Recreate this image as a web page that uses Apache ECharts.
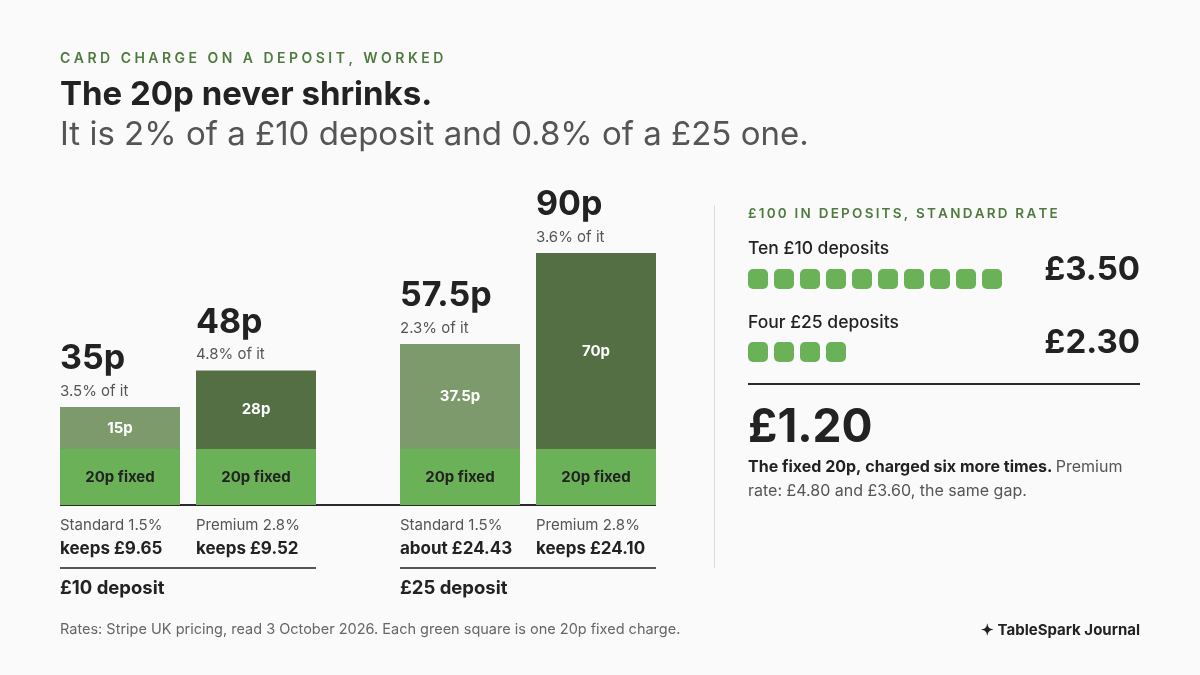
<!DOCTYPE html>
<html>
<head>
<meta charset="utf-8">
<script src="https://cdn.jsdelivr.net/npm/echarts@6/dist/echarts.min.js"></script>
<style>
  html, body { margin: 0; padding: 0; background: #fafafa; }
  #chart { width: 1200px; height: 675px; }
</style>
</head>
<body>
<div id="chart"></div>
<script>
// card charge per deposit, in pence
const planLabels = ['Standard 1.5%', 'Premium 2.8%', 'Standard 1.5%', 'Premium 2.8%'];
const keepsLabels = ['keeps £9.65', 'keeps £9.52', 'about £24.43', 'keeps £24.10'];
const planKind = ['standard', 'premium', 'standard', 'premium'];
const depositPence = [1000, 1000, 2500, 2500];
const fixedFee = [20, 20, 20, 20];
const rateFee = [15, 28, 37.5, 70];
const groupNames = ['£10 deposit', '£25 deposit'];

// £100 in deposits
const rowLabels = ['Ten £10 deposits', 'Four £25 deposits'];
const rowCounts = [10, 4];
const rowBar = [0, 2];        // which bar (standard rate) each row uses
const rowPremiumBar = [1, 3];

const FONT = 'Inter, "Noto Sans", sans-serif';
const GREEN = '#6bb157';
const STD = '#7c9a6b';
const PREM = '#556f45';
const INK = '#222222';
const GREY = '#555555';

const totals = fixedFee.map((f, i) => f + rateFee[i]);
const money = p => '£' + (p / 100).toFixed(2);
const spaced = (s, sep) => s.split('').join(sep);

const rowTotals = rowCounts.map((n, r) => n * totals[rowBar[r]]);
const rowPremium = rowCounts.map((n, r) => n * totals[rowPremiumBar[r]]);
const gap = rowTotals[0] - rowTotals[1];
const extraTimes = rowCounts[0] - rowCounts[1];

const numWords = ['zero', 'one', 'two', 'three', 'four', 'five', 'six', 'seven', 'eight', 'nine', 'ten'];

const chart = echarts.init(document.getElementById('chart'));

const grids = [
    { left: 52, width: 272, top: 225, height: 280 },
    { left: 392, width: 272, top: 225, height: 280 },
    { left: 745, width: 260, top: 279, height: 73 }
];

let xAxis = [];
let yAxis = [];
let series = [];

groupNames.forEach((name, g) => {
    const idx = [g * 2, g * 2 + 1];
    xAxis.push({
        type: 'category',
        gridIndex: g,
        data: idx.map(i => planLabels[i]),
        axisLine: { show: false },
        axisTick: { show: false },
        axisLabel: {
            margin: 9,
            formatter: (v, k) => '{a|' + planLabels[idx[k]] + '}\n{b|' + keepsLabels[idx[k]] + '}',
            rich: {
                a: { width: 120, align: 'left', fontFamily: FONT, fontSize: 15, color: GREY, lineHeight: 23 },
                b: { width: 120, align: 'left', fontFamily: FONT, fontSize: 17, fontWeight: 'bold', color: INK, lineHeight: 23 }
            }
        }
    });
    yAxis.push({ type: 'value', gridIndex: g, min: 0, max: 100, show: false });

    series.push({
        type: 'bar', name: 'fixed', xAxisIndex: g, yAxisIndex: g, stack: 'g' + g,
        barWidth: 120, silent: true,
        data: idx.map(i => fixedFee[i]),
        itemStyle: { color: GREEN },
        label: {
            show: true, position: 'inside', formatter: p => p.value + 'p fixed',
            fontFamily: FONT, fontSize: 15, fontWeight: 'bold', color: INK
        }
    });
    series.push({
        type: 'bar', name: 'rate', xAxisIndex: g, yAxisIndex: g, stack: 'g' + g,
        barWidth: 120, silent: true,
        data: idx.map(i => ({
            value: rateFee[i],
            itemStyle: { color: planKind[i] === 'standard' ? STD : PREM }
        })),
        label: {
            show: true, position: 'inside', formatter: p => p.value + 'p',
            fontFamily: FONT, fontSize: 15, fontWeight: 'bold', color: '#ffffff'
        }
    });
    // zero-height cap that carries the total label
    series.push({
        type: 'bar', name: 'total', xAxisIndex: g, yAxisIndex: g, stack: 'g' + g,
        barWidth: 120, silent: true,
        data: idx.map(() => 0),
        itemStyle: { color: 'transparent' },
        label: {
            show: true, position: [0, -6], align: 'left', verticalAlign: 'bottom',
            formatter: p => {
                const i = idx[p.dataIndex];
                const share = (totals[i] / depositPence[i] * 100).toFixed(1);
                return '{big|' + totals[i] + 'p}\n{sub|' + share + '% of it}';
            },
            rich: {
                big: { fontFamily: FONT, fontSize: 34, fontWeight: 'bold', color: INK, lineHeight: 44 },
                sub: { fontFamily: FONT, fontSize: 15, color: GREY, lineHeight: 20 }
            }
        }
    });
});

// green squares, one per 20p fixed charge
xAxis.push({ type: 'value', gridIndex: 2, min: -0.5, max: 9.5, show: false });
yAxis.push({ type: 'value', gridIndex: 2, min: 0, max: 1, inverse: true, show: false });
let squares = [];
rowCounts.forEach((n, r) => {
    for (let i = 0; i < n; i++) squares.push([i, r]);
});
series.push({
    type: 'scatter', xAxisIndex: 2, yAxisIndex: 2, silent: true,
    symbol: 'roundRect', symbolSize: 20,
    itemStyle: { color: GREEN, opacity: 1 },
    data: squares
});

const txt = (x, y, text, font, fill, align) => ({
    type: 'text', x: x, y: y, silent: true,
    style: { text: text, font: font, fill: fill, align: align || 'left', verticalAlign: 'middle' }
});
const line = (x1, y1, x2, y2, stroke, w) => ({
    type: 'line', silent: true,
    shape: { x1: x1, y1: y1, x2: x2, y2: y2 },
    style: { stroke: stroke, lineWidth: w }
});

let graphic = [
    txt(60, 59, spaced('CARD CHARGE ON A DEPOSIT, WORKED', '\u2009\u200A'), '600 14px ' + FONT, '#4f7a3e'),
    txt(60, 95, 'The 20p never shrinks.', 'bold 33px ' + FONT, INK),
    txt(60, 135, 'It is 2% of a £10 deposit and 0.8% of a £25 one.', '33px ' + FONT, GREY),

    line(60, 505, 656, 505, '#2a2a2a', 2),
    line(60, 568, 316, 568, GREY, 2),
    line(400, 568, 656, 568, GREY, 2),
    txt(60, 588, groupNames[0], 'bold 18.5px ' + FONT, INK),
    txt(400, 588, groupNames[1], 'bold 18.5px ' + FONT, INK),

    line(714.5, 205, 714.5, 568, '#dddddd', 1),
    txt(748, 214, spaced('£100 IN DEPOSITS, STANDARD RATE', '\u2009'), '600 13.5px ' + FONT, '#4f7a3e'),
    txt(748, 249, rowLabels[0], '500 17.5px ' + FONT, INK),
    txt(748, 323, rowLabels[1], '500 17.5px ' + FONT, INK),
    txt(1140, 270, money(rowTotals[0]), 'bold 33px ' + FONT, INK, 'right'),
    txt(1140, 343, money(rowTotals[1]), 'bold 33px ' + FONT, INK, 'right'),
    line(748, 384, 1140, 384, '#2a2a2a', 2),
    txt(748, 428, money(gap), 'bold 46px ' + FONT, INK),
    {
        type: 'text', x: 748, y: 455, silent: true,
        style: {
            text: '{b|The fixed ' + fixedFee[0] + 'p, charged ' + numWords[extraTimes] + ' more times.} {r|Premium}\n{r|rate: ' +
                money(rowPremium[0]) + ' and ' + money(rowPremium[1]) + ', the same gap.}',
            verticalAlign: 'top',
            rich: {
                b: { fontFamily: FONT, fontSize: 16, fontWeight: 'bold', fill: INK, lineHeight: 24 },
                r: { fontFamily: FONT, fontSize: 16, fill: GREY, lineHeight: 24 }
            }
        }
    },

    txt(60, 630, 'Rates: Stripe UK pricing, read 3 October 2026. Each green square is one 20p fixed charge.', '14.5px ' + FONT, '#666666'),
    txt(1140, 630, '✦ TableSpark Journal', 'bold 15px ' + FONT, INK, 'right')
];

chart.setOption({
    backgroundColor: '#fafafa',
    animation: false,
    grid: grids,
    xAxis: xAxis,
    yAxis: yAxis,
    series: series,
    graphic: graphic
});
</script>
</body>
</html>
